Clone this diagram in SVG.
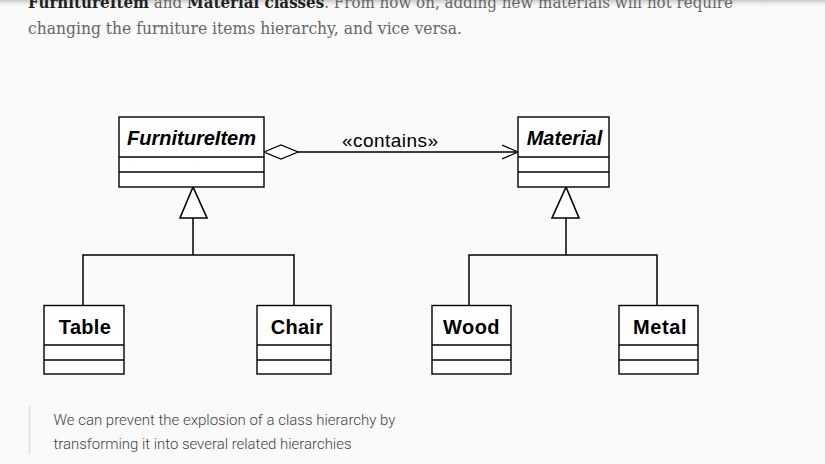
<svg xmlns="http://www.w3.org/2000/svg" width="825" height="464" viewBox="0 0 825 464">
<defs>
<linearGradient id="shadow" x1="0" y1="0" x2="0" y2="1">
<stop offset="0" stop-color="#c8c8c8"/>
<stop offset="1" stop-color="#fafafa" stop-opacity="0"/>
</linearGradient>
<marker id="open" viewBox="0 0 20 16" refX="16" refY="8" markerWidth="20" markerHeight="16" markerUnits="userSpaceOnUse" orient="auto">
<path d="M0,1 L16,8 L0,15" fill="none" stroke="#000" stroke-width="1.3"/>
</marker>
</defs>
<style>
.box{fill:#fff;stroke:#000;stroke-width:1.4}
.sep{stroke:#000;stroke-width:1.4}
.name{font-family:"Liberation Sans",Arial,sans-serif;font-size:20px;font-weight:bold;fill:#000;text-anchor:middle}
.abs{font-style:italic}
.ln{fill:none;stroke:#000;stroke-width:1.5}
.tri{fill:#fff;stroke:#000;stroke-width:1.6}
.body{font-family:"DejaVu Serif",serif;font-size:16px;fill:#666}
.bold{font-weight:bold;fill:#222}
.quote{font-family:Roboto,"Liberation Sans",sans-serif;font-size:15.5px;fill:#444;font-weight:300}
</style>
<rect width="825" height="464" fill="#fafafa"/>
<rect width="825" height="8" fill="url(#shadow)"/>
<text class="body" x="28" y="8" textLength="705" lengthAdjust="spacingAndGlyphs"><tspan class="bold">FurnitureItem</tspan> and <tspan class="bold">Material classes</tspan>. From how on, adding new materials will not require</text>
<text class="body" x="28" y="34" textLength="434" lengthAdjust="spacingAndGlyphs">changing the furniture items hierarchy, and vice versa.</text>

<g id="connectors">
<path d="M264,152 L281,145 L298,152 L281,159 Z" fill="#fff" stroke="#000" stroke-width="1.3"/>
<line x1="298" y1="152" x2="518" y2="152" class="ln" stroke-width="1.3" marker-end="url(#open)"/>
<text x="390" y="147" font-family="'Liberation Sans',Arial,sans-serif" font-size="19" text-anchor="middle" textLength="96" lengthAdjust="spacing">«contains»</text>
<line x1="193" y1="218" x2="193" y2="255" class="ln" stroke-width="2.6"/>
<path d="M83,305 V255 H294 V305" class="ln"/>
<polygon points="193,187 180,218 207,218" class="tri"/>
<line x1="566" y1="218" x2="566" y2="255" class="ln"/>
<path d="M469,305 V255 H657 V305" class="ln"/>
<polygon points="566,187 552,218 579,218" class="tri"/>
</g>

<g id="FurnitureItem">
<rect x="119" y="117" width="145" height="70" class="box"/>
<line x1="119" y1="157" x2="264" y2="157" class="sep"/>
<line x1="119" y1="172" x2="264" y2="172" class="sep"/>
<text x="191.5" y="145" class="name abs">FurnitureItem</text>
</g>
<g id="Material">
<rect x="518" y="117" width="91" height="70" class="box"/>
<line x1="518" y1="157" x2="609" y2="157" class="sep"/>
<line x1="518" y1="172" x2="609" y2="172" class="sep"/>
<text x="564.5" y="145" class="name abs">Material</text>
</g>
<g id="Table">
<rect x="44" y="305.5" width="80" height="68.5" class="box"/>
<line x1="44" y1="345" x2="124" y2="345" class="sep"/>
<line x1="44" y1="360" x2="124" y2="360" class="sep"/>
<text x="85" y="333.5" class="name" letter-spacing="0.3">Table</text>
</g>
<g id="Chair">
<rect x="257" y="305.5" width="74" height="68.5" class="box"/>
<line x1="257" y1="345" x2="331" y2="345" class="sep"/>
<line x1="257" y1="360" x2="331" y2="360" class="sep"/>
<text x="297" y="333.5" class="name" letter-spacing="0.3">Chair</text>
</g>
<g id="Wood">
<rect x="432" y="305.5" width="79" height="68.5" class="box"/>
<line x1="432" y1="345" x2="511" y2="345" class="sep"/>
<line x1="432" y1="360" x2="511" y2="360" class="sep"/>
<text x="471.5" y="333.5" class="name" letter-spacing="0.5">Wood</text>
</g>
<g id="Metal">
<rect x="619" y="305.5" width="79" height="68.5" class="box"/>
<line x1="619" y1="345" x2="698" y2="345" class="sep"/>
<line x1="619" y1="360" x2="698" y2="360" class="sep"/>
<text x="660" y="333.5" class="name" letter-spacing="0.6">Metal</text>
</g>

<line x1="29.5" y1="406" x2="29.5" y2="454" stroke="#ddd" stroke-width="1.5"/>
<text class="quote" x="53.5" y="424.5" textLength="342" lengthAdjust="spacingAndGlyphs">We can prevent the explosion of a class hierarchy by</text>
<text class="quote" x="53.5" y="448.5" textLength="298" lengthAdjust="spacingAndGlyphs">transforming it into several related hierarchies</text>
</svg>
